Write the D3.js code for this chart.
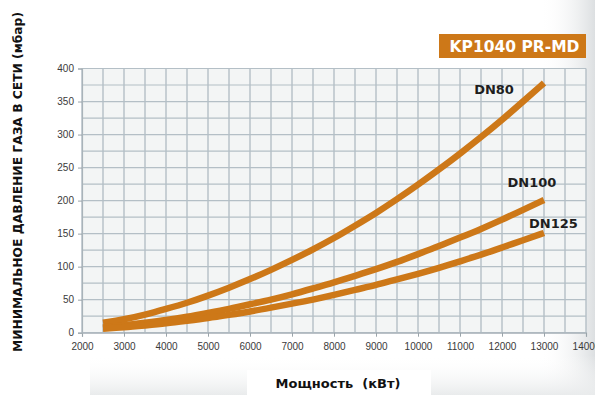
<!DOCTYPE html>
<html>
<head>
<meta charset="utf-8">
<script src="https://cdn.jsdelivr.net/npm/d3@7"></script>
<style>
html,body{margin:0;padding:0;background:#fff;}
svg{display:block;}
</style>
</head>
<body>
<script>
// ---- data ----
const power = [2500,3000,3500,4000,4500,5000,5500,6000,6500,7000,7500,8000,8500,9000,9500,10000,10500,11000,11500,12000,12500,13000];
const dn80  = [15,20,27,36,45,56,68,81,95,110,126,143,162,181,202,224,247,271,296,322,350,378];
const dn100 = [8,11,15,19,24,30,36,43,50,58,67,76,86,96,107,119,131,144,157,171,186,201];
const dn125 = [6,8,11,14,18,22,27,32,38,44,50,57,65,72,81,89,98,108,118,129,140,151];
const seriesNames = ["DN80","DN100","DN125"];
const labelX = [11810,12714,13226];
const labelY = [361,221,158];
const xTicks = [2000,3000,4000,5000,6000,7000,8000,9000,10000,11000,12000,13000,14000];
const yTicks = [0,50,100,150,200,250,300,350,400];
const title = "KP1040 PR-MD";
const yTitle = "МИНИМАЛЬНОЕ ДАВЛЕНИЕ ГАЗА В СЕТИ (мбар)";
const xTitle = "Мощность  (кВт)";

const W = 595, H = 395;
const m = {left:82, right:9, top:68.5, bottom:62.3};
const orange = "#cd7818";
const heavy = "DejaVu Sans, Liberation Sans, Arial, sans-serif";

const svg = d3.select("body").append("svg").attr("width",W).attr("height",H);
const defs = svg.append("defs");
const gR = defs.append("linearGradient").attr("id","gr").attr("x1","0").attr("x2","1").attr("y1","0").attr("y2","0");
gR.append("stop").attr("offset","0").attr("stop-color","#ffffff").attr("stop-opacity",0);
gR.append("stop").attr("offset","1").attr("stop-color","#dcdfe1").attr("stop-opacity",1);
const gB = defs.append("linearGradient").attr("id","gb").attr("x1","0").attr("x2","0").attr("y1","0").attr("y2","1");
gB.append("stop").attr("offset","0").attr("stop-color","#ffffff").attr("stop-opacity",0);
gB.append("stop").attr("offset","1").attr("stop-color","#e9ebec").attr("stop-opacity",1);

svg.append("rect").attr("width",W).attr("height",H).attr("fill","#fff");
svg.append("rect").attr("x",540).attr("y",0).attr("width",55).attr("height",H).attr("fill","url(#gr)");
svg.append("rect").attr("x",90).attr("y",355).attr("width",505).attr("height",40).attr("fill","url(#gb)");
svg.append("rect").attr("x",247).attr("y",370).attr("width",184).attr("height",25).attr("fill","#fff");

const x = d3.scaleLinear().domain([2000,14000]).range([m.left, W-m.right]);
const y = d3.scaleLinear().domain([0,400]).range([H-m.bottom, m.top]);

// plot background
svg.append("rect").attr("x",x(2000)).attr("y",y(400)).attr("width",x(14000)-x(2000)).attr("height",y(0)-y(400)).attr("fill","#f3f5f5");

// grid
const gridX = d3.range(2000,14001,500);
const gridY = d3.range(0,401,25);
svg.append("g").selectAll("line").data(gridY).join("line")
  .attr("x1",x(2000)).attr("x2",x(14000)).attr("y1",d=>y(d)).attr("y2",d=>y(d))
  .attr("stroke","#b4bfc6").attr("stroke-width",1.2);
svg.append("g").selectAll("line").data(gridX).join("line")
  .attr("y1",y(0)).attr("y2",y(400)).attr("x1",d=>x(d)).attr("x2",d=>x(d))
  .attr("stroke","#b4bfc6").attr("stroke-width",1.4);

// axes
const xAxis = svg.append("g").attr("transform",`translate(0,${y(0)})`)
  .call(d3.axisBottom(x).tickValues(xTicks).tickFormat(d3.format("d")).tickSize(4).tickPadding(6));
const yAxis = svg.append("g").attr("transform",`translate(${x(2000)},0)`)
  .call(d3.axisLeft(y).tickValues(yTicks).tickSize(4).tickPadding(4));
[xAxis,yAxis].forEach(a=>{
  a.select(".domain").attr("stroke","#a9b3b9").attr("stroke-width",1.2);
  a.selectAll(".tick line").attr("stroke","#9aa4aa");
  a.selectAll("text").attr("fill","#3a3a3a").attr("font-family","Liberation Sans, Arial, sans-serif").attr("font-size",10);
});

// lines
const allSeries = [dn80, dn100, dn125];
const line = d3.line().x((d,i)=>x(power[i])).y(d=>y(d)).curve(d3.curveBasis);
svg.append("g").selectAll("path").data(allSeries).join("path")
  .attr("d",d=>line(d)).attr("fill","none").attr("stroke",orange)
  .attr("stroke-width",6.5).attr("stroke-linecap","butt").attr("stroke-linejoin","round");

// series labels
svg.append("g").selectAll("text").data(seriesNames).join("text")
  .attr("x",(d,i)=>x(labelX[i])).attr("y",(d,i)=>y(labelY[i]))
  .attr("text-anchor","middle").attr("font-family",heavy)
  .attr("font-weight","bold").attr("font-size",13).attr("fill","#1e1e1e").text(d=>d);

// title box
svg.append("rect").attr("x",439).attr("y",34).attr("width",147).attr("height",24).attr("fill","#cd7818");
svg.append("text").attr("x",514.5).attr("y",51.5).attr("text-anchor","middle")
  .attr("font-family",heavy).attr("font-weight","bold")
  .attr("font-size",15.5).attr("fill","#fff").text(title);

// axis titles
svg.append("text").attr("transform","translate(22,182) rotate(-90)").attr("text-anchor","middle")
  .attr("font-family",heavy).attr("font-weight","bold")
  .attr("font-size",12).attr("fill","#111").attr("textLength",340).attr("lengthAdjust","spacingAndGlyphs").text(yTitle);
svg.append("text").attr("x",338).attr("y",388).attr("text-anchor","middle")
  .attr("font-family",heavy).attr("font-weight","bold")
  .attr("font-size",13).attr("fill","#111").style("white-space","pre").text(xTitle);
</script>
</body>
</html>
